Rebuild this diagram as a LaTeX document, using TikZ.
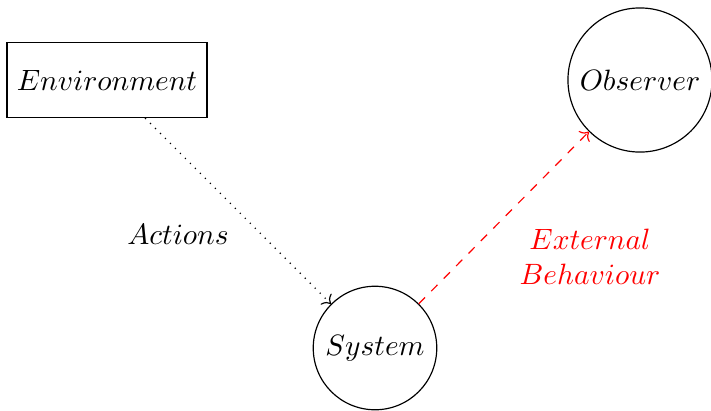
\documentclass[tikz,border=0pt]{standalone}
\usetikzlibrary{positioning, arrows.meta}

\begin{document}
\begin{tikzpicture}[x=0.34pt, y=-0.34pt,
  box/.style={draw, rectangle, minimum width=66.6pt, minimum height=25.5pt},
  agent/.style={draw, circle, inner sep=0pt},
  lab/.style={align=center},
]
  \useasboundingbox (0,0) rectangle (711,410);

  \node[box] (env) at (107,80) {$Environment$};
  \node[agent, minimum size=49pt] (obs) at (640,80) {$Observer$};
  \node[agent, minimum size=42pt] (sys) at (375,348) {$System$};

  \node[lab] (act) at (178,234) {$Actions$};
  \node[lab, text=red] (beh) at (590,257) {$External$\\$Behaviour$};

  \draw[-{To}, dotted] (env) -- (sys);
  \draw[-{To}, dashed, red] (sys) -- (obs);
\end{tikzpicture}
\end{document}
